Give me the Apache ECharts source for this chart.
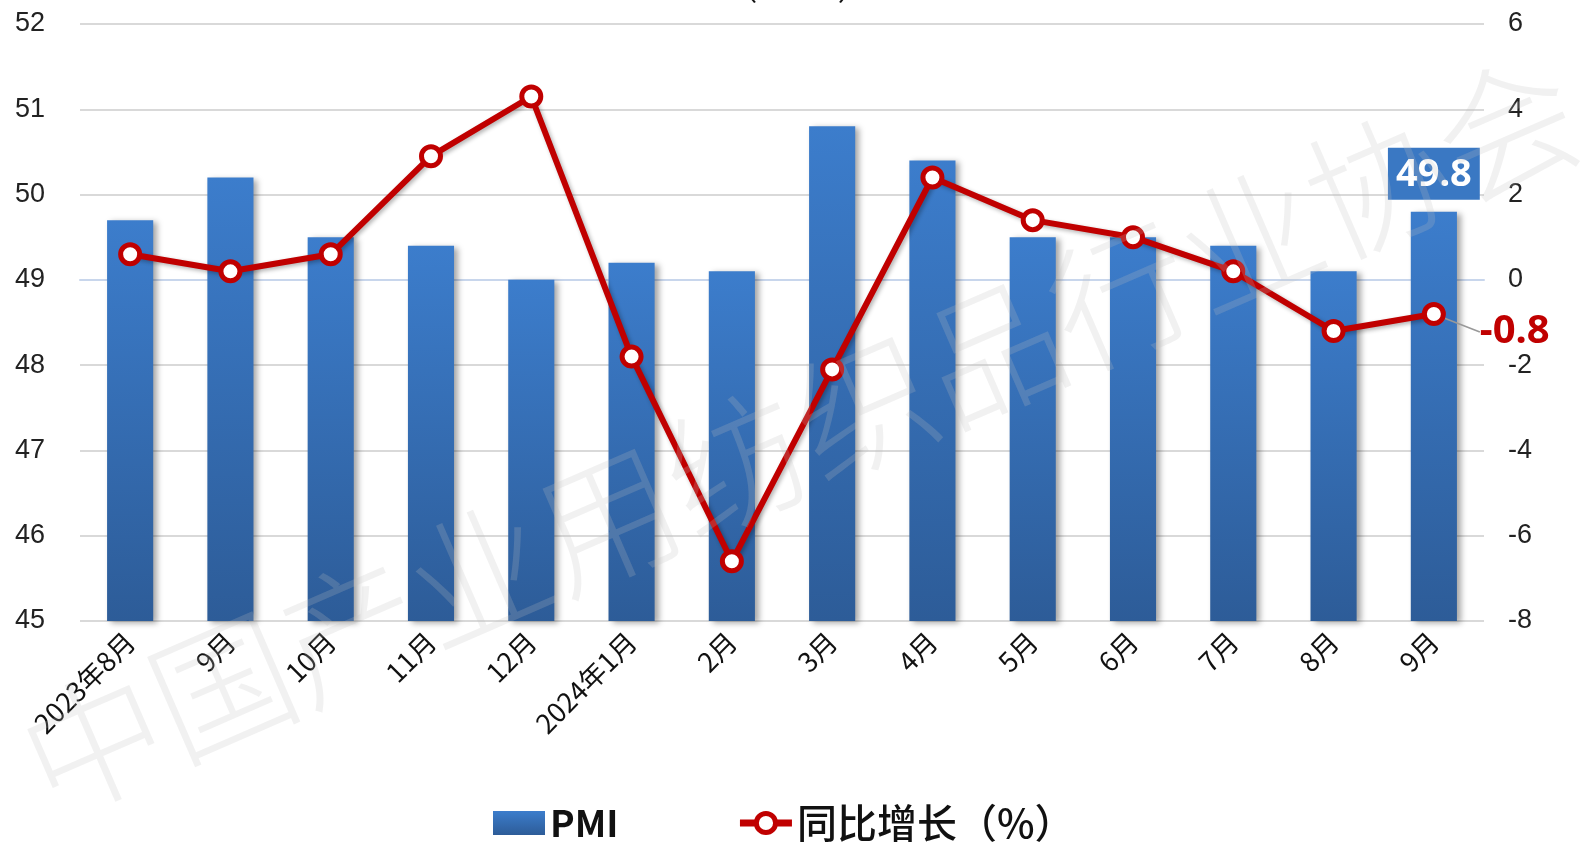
<!DOCTYPE html>
<html><head><meta charset="utf-8">
<script src="https://cdn.jsdelivr.net/npm/echarts@6/dist/echarts.min.js"></script>
<style>html,body{margin:0;padding:0;background:#fff}#c{width:1595px;height:865px}</style>
</head><body><div id="c"></div>
<script>
const categories = ['2023年8月','9月','10月','11月','12月','2024年1月','2月','3月','4月','5月','6月','7月','8月','9月'];
const pmiValues = [49.7, 50.2, 49.5, 49.4, 49.0, 49.2, 49.1, 50.8, 50.4, 49.5, 49.5, 49.4, 49.1, 49.8];
const yoyValues = [0.6, 0.2, 0.6, 2.9, 4.3, -1.8, -6.6, -2.1, 2.4, 1.4, 1.0, 0.2, -1.2, -0.8];
const seriesNames = ['PMI', '同比增长（%）'];
const watermarkText = '中国产业用纺织品行业协会';

const chart = echarts.init(document.getElementById('c'));
const font = '"Liberation Sans Narrow","Liberation Sans","Noto Sans CJK SC",sans-serif';
const cjk = '"Noto Sans CJK SC","Liberation Sans",sans-serif';
const last = pmiValues.length - 1;

const barData = pmiValues.map((v, i) => i === last ? {
  value: v,
  label: { show: true, position: 'top', distance: 12, color: '#fff', fontSize: 38, fontWeight: 'bold',
    fontFamily: '"Noto Sans","Liberation Sans",sans-serif', backgroundColor: '#3A78C3', padding: [9, 8, 5, 8] }
} : v);
const lineData = yoyValues.map((v, i) => i === last ? {
  value: v,
  label: { show: true, position: 'right', distance: 8, color: '#C00000', fontSize: 40, fontWeight: 'bold',
    fontFamily: '"Noto Sans","Liberation Sans",sans-serif', formatter: '{c}' }
} : v);

chart.setOption({
  animation: false,
  grid: { left: 80, right: 111, top: 24, bottom: 244, containLabel: false },
  legend: {
    left: 488, top: 798, itemGap: 118, itemWidth: 52, itemHeight: 24,
    formatter: function (name) { return name === seriesNames[1] ? '{b|' + name + '}' : '{a|' + name + '}'; },
    textStyle: { color: '#111', fontFamily: cjk,
      rich: { a: { fontSize: 37, fontWeight: 'bold', color: '#111', fontFamily: cjk },
              b: { fontSize: 40, fontWeight: 500, color: '#111', fontFamily: cjk } } },
    data: [
      { name: seriesNames[0], icon: 'rect' },
      { name: seriesNames[1], lineStyle: { width: 7, color: '#C00000' }, itemStyle: { borderWidth: 5, color: '#fff', borderColor: '#C00000' } }
    ]
  },
  xAxis: {
    type: 'category', data: categories,
    axisLine: { lineStyle: { color: '#C8D6EC', width: 2 } },
    axisTick: { show: false },
    axisLabel: { rotate: 45, fontSize: 27, color: '#111', margin: 16, fontFamily: cjk, interval: 0 }
  },
  yAxis: [
    { type: 'value', min: 45, max: 52, interval: 1,
      axisLabel: { fontSize: 27, color: '#222', margin: 35, fontFamily: font },
      axisLine: { show: false }, axisTick: { show: false },
      splitLine: { lineStyle: { color: '#D9D9D9', width: 2 } } },
    { type: 'value', min: -8, max: 6, interval: 2,
      axisLabel: { fontSize: 27, color: '#222', margin: 24, fontFamily: font },
      axisLine: { show: false }, axisTick: { show: false }, splitLine: { show: false } }
  ],
  series: [
    { name: seriesNames[0], type: 'bar', yAxisIndex: 0, barWidth: '46%', data: barData,
      itemStyle: {
        color: new echarts.graphic.LinearGradient(0, 0, 0, 1, [
          { offset: 0, color: '#3C7DCC' }, { offset: 1, color: '#2D5C98' }]),
        shadowColor: 'rgba(0,0,0,0.35)', shadowBlur: 6, shadowOffsetX: 4, shadowOffsetY: 2
      }, z: 2 },
    { name: seriesNames[1], type: 'line', yAxisIndex: 1, data: lineData,
      symbol: 'circle', symbolSize: 19,
      lineStyle: { color: '#C00000', width: 6, shadowColor: 'rgba(0,0,0,0.3)', shadowBlur: 4, shadowOffsetX: 2, shadowOffsetY: 2 },
      itemStyle: { color: '#fff', borderColor: '#C00000', borderWidth: 5 },
      labelLine: { show: true, lineStyle: { color: '#999', width: 1.5 } },
      labelLayout: function (p) { return p.dataIndex === last ? { dx: 26, dy: 18 } : {}; },
      z: 3 }
  ],
  graphic: [
    { type: 'text', left: 'center', top: -26, z: 0, silent: true,
      style: { text: '（            ）', fontSize: 30, fill: '#111', fontFamily: cjk } },
    { type: 'text', x: 800, y: 435, rotation: 0.41, z: 100, silent: true,
      style: { text: watermarkText, fontSize: 140, fill: 'rgba(190,190,190,0.22)',
        fontFamily: '"Noto Sans CJK SC",sans-serif', fontWeight: 300, align: 'center', verticalAlign: 'middle' } }
  ]
});
</script></body></html>
